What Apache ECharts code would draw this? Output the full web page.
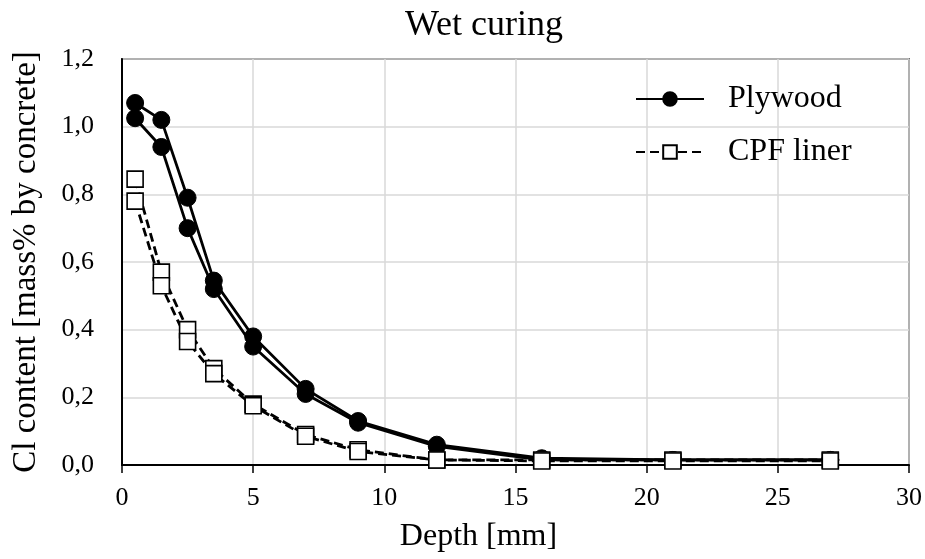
<!DOCTYPE html>
<html>
<head>
<meta charset="utf-8">
<script src="https://cdn.jsdelivr.net/npm/echarts@6/dist/echarts.min.js"></script>
<style>
  html, body { margin: 0; padding: 0; background: #fff; }
  #chart { width: 925px; height: 559px; }
</style>
</head>
<body>
<div id="chart"></div>
<script>
// depth [mm] of each sample slice
var depths = [0.5, 1.5, 2.5, 3.5, 5, 7, 9, 12, 16, 21, 27];
// Cl content [mass% by concrete]
var plywoodA = [1.07, 1.02, 0.79, 0.545, 0.38, 0.225, 0.13, 0.06, 0.02, 0.015, 0.015];
var plywoodB = [1.025, 0.94, 0.70, 0.52, 0.35, 0.21, 0.125, 0.055, 0.015, 0.015, 0.015];
var cpfA = [0.845, 0.57, 0.40, 0.285, 0.18, 0.09, 0.045, 0.015, 0.015, 0.015, 0.015];
var cpfB = [0.78, 0.53, 0.365, 0.27, 0.175, 0.085, 0.04, 0.015, 0.012, 0.012, 0.012];

var font = '"Liberation Serif", "Times New Roman", serif';

function pairs(vals){
  var out = [];
  for (var i = 0; i < depths.length; i++) {
    out.push([depths[i], vals[i]]);
  }
  return out;
}

function plywoodSeries(vals){
  return {
    name: 'Plywood',
    type: 'line',
    data: pairs(vals),
    symbol: 'circle',
    symbolSize: 17,
    lineStyle: { color: '#000', width: 2.8 },
    itemStyle: { color: '#000', borderColor: '#000', borderWidth: 1 },
    animation: false
  };
}

function cpfSeries(vals){
  return {
    name: 'CPF liner',
    type: 'line',
    data: pairs(vals),
    symbol: 'rect',
    symbolSize: 16,
    lineStyle: { color: '#000', width: 2.8, type: [9, 5] },
    itemStyle: { color: '#fff', borderColor: '#000', borderWidth: 1.6 },
    animation: false
  };
}

var chart = echarts.init(document.getElementById('chart'));
chart.setOption({
  backgroundColor: '#fff',
  title: {
    text: 'Wet curing',
    left: 400,
    top: 3,
    textStyle: { fontFamily: font, fontSize: 36, fontWeight: 'normal', color: '#000' }
  },
  legend: {
    data: ['Plywood', 'CPF liner'],
    orient: 'vertical',
    left: 630,
    top: 78,
    itemWidth: 68,
    itemHeight: 17,
    itemGap: 21,
    textStyle: { fontFamily: font, fontSize: 32, color: '#000', padding: [0, 0, 0, 19] }
  },
  grid: {
    left: 122,
    right: 16,
    top: 59,
    bottom: 94,
    show: true,
    borderColor: '#000',
    borderWidth: 1.5
  },
  xAxis: {
    type: 'value',
    min: 0,
    max: 30,
    interval: 5,
    name: 'Depth [mm]',
    nameLocation: 'middle',
    nameGap: 56,
    nameTextStyle: { fontFamily: font, fontSize: 32, color: '#000', padding: [0, 74, 0, 0] },
    axisLine: { lineStyle: { color: '#000', width: 2 } },
    axisTick: { show: true, length: 8, lineStyle: { color: '#000', width: 1.5 } },
    axisLabel: { fontFamily: font, fontSize: 26, color: '#000', margin: 20 },
    splitLine: { show: true, lineStyle: { color: '#d9d9d9', width: 1.5 } }
  },
  yAxis: {
    type: 'value',
    min: 0,
    max: 1.2,
    interval: 0.2,
    name: 'Cl content [mass% by concrete]',
    nameLocation: 'middle',
    nameGap: 79,
    nameTextStyle: { fontFamily: font, fontSize: 33, color: '#000' },
    axisLine: { show: true, lineStyle: { color: '#000', width: 2 } },
    axisTick: { show: false },
    axisLabel: {
      fontFamily: font, fontSize: 26, color: '#000', margin: 28,
      formatter: function (v) { return v.toFixed(1).replace('.', ','); }
    },
    splitLine: { show: true, lineStyle: { color: '#d9d9d9', width: 1.5 } }
  },
  series: [
    plywoodSeries(plywoodA),
    plywoodSeries(plywoodB),
    cpfSeries(cpfA),
    cpfSeries(cpfB)
  ]
});
</script>
</body>
</html>
